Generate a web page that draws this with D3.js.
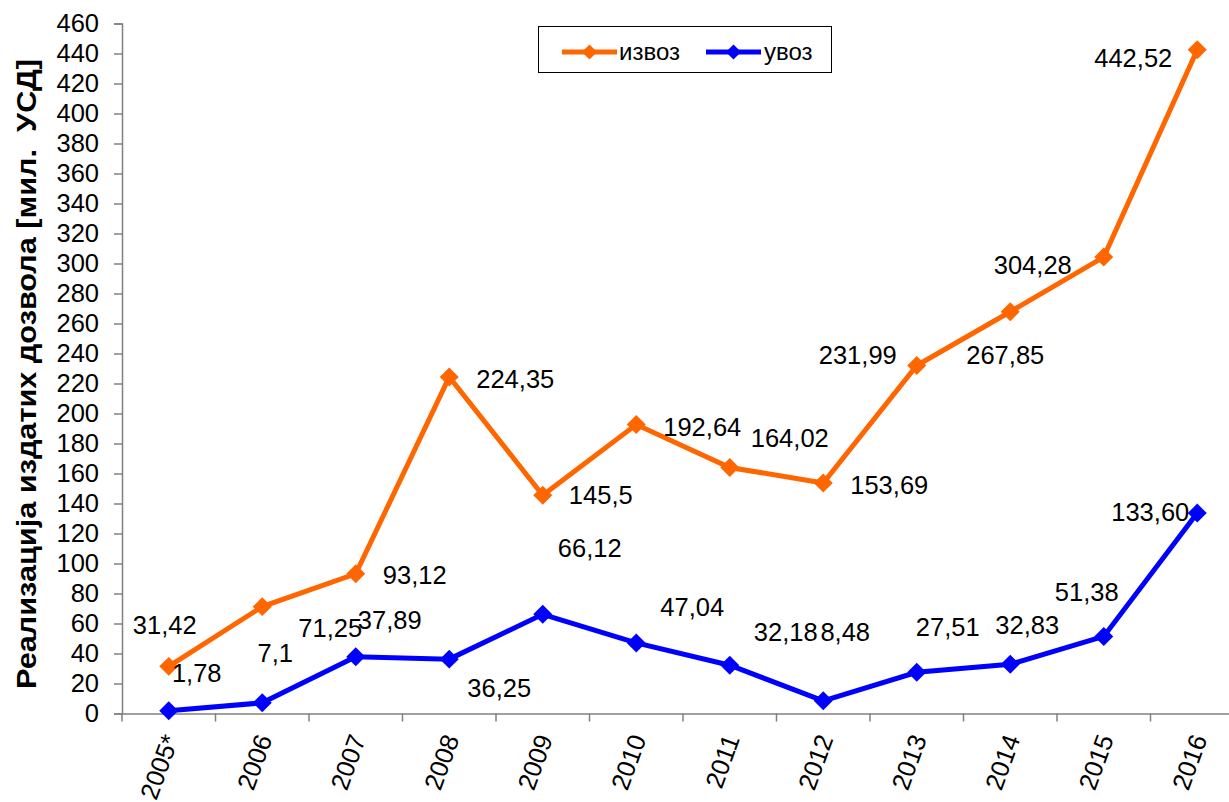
<!DOCTYPE html>
<html>
<head>
<meta charset="utf-8">
<script src="https://cdn.jsdelivr.net/npm/d3@7/dist/d3.min.js"></script>
<style>
  html, body { margin: 0; padding: 0; background: #fff; }
  svg { display: block; font-family: "Liberation Sans", Arial, sans-serif; }
</style>
</head>
<body>
<svg id="chart" width="1229" height="802"></svg>
<script>
// ---- data ----
const categories = ["2005*", "2006", "2007", "2008", "2009", "2010", "2011", "2012", "2013", "2014", "2015", "2016"];
const exportValues = [31.42, 71.25, 93.12, 224.35, 145.5, 192.64, 164.02, 153.69, 231.99, 267.85, 304.28, 442.52];
const importValues = [1.78, 7.1, 37.89, 36.25, 66.12, 47.04, 32.18, 8.48, 27.51, 32.83, 51.38, 133.60];
const exportLabels = ["31,42", "71,25", "93,12", "224,35", "145,5", "192,64", "164,02", "153,69", "231,99", "267,85", "304,28", "442,52"];
const importLabels = ["1,78", "7,1", "37,89", "36,25", "66,12", "47,04", "32,18", "8,48", "27,51", "32,83", "51,38", "133,60"];
const yTicks = d3.range(0, 461, 20);
const seriesNames = ["извоз", "увоз"];
const yTitle = "Реализација издатих дозвола [мил.  УСД]";

// label offsets (layout, relative to each point)
const exportOffsets = [[-4,-41],[68,21],[59,1],[66,2],[58,0],[66,2.5],[60,-29.5],[66,2],[-59,-10.5],[-5,43],[-71,8],[-64,8]];
const importOffsets = [[28,-38],[13,-50],[34,-37],[50,29],[47,-66],[56,-36],[56,-33],[22,-69],[31,-45],[17,-39],[-17,-44],[-47,-1]];

const colors = ["#FF6600", "#0000FF"];

// ---- layout ----
const plotLeft = 122, plotTop = 23.5, plotBottom = 713.5;
const step = 93.5;
const svg = d3.select("#chart");

const x = d3.scaleBand().domain(categories).range([plotLeft, plotLeft + step * categories.length]).padding(0);
const cx = c => x(c) + x.bandwidth() / 2;
const y = d3.scaleLinear().domain([0, 460]).range([plotBottom, plotTop]);

const axisColor = "#808080";
const numFont = 25.5;

// y axis
const yAxis = svg.append("g").attr("transform", `translate(${plotLeft},0)`)
  .call(d3.axisLeft(y).tickValues(yTicks).tickSize(8).tickPadding(15).tickFormat(d3.format("d")));
yAxis.select(".domain").attr("stroke", axisColor).attr("stroke-width", 1.5);
yAxis.selectAll(".tick line").attr("stroke", axisColor).attr("stroke-width", 1.5);
yAxis.selectAll(".tick text").attr("font-size", numFont).attr("fill", "#000")
  .attr("font-family", "Liberation Sans, Arial, sans-serif");

// x axis
const xAxis = svg.append("g").attr("transform", `translate(0,${plotBottom})`)
  .call(d3.axisBottom(x).tickSize(0).tickFormat(d => d));
xAxis.select(".domain").attr("stroke", axisColor).attr("stroke-width", 1.5);
xAxis.selectAll(".tick text")
  .attr("font-size", numFont).attr("fill", "#000")
  .attr("font-family", "Liberation Sans, Arial, sans-serif")
  .attr("text-anchor", "end")
  .attr("dy", "0.35em")
  .attr("transform", "translate(2,22) rotate(-70)")
  .attr("x", 0).attr("y", 0);
// x tick marks at band boundaries
const edges = categories.map(c => x(c)).concat([x(categories[categories.length - 1]) + x.bandwidth()]);
xAxis.selectAll(".edge").data(edges).enter().append("line")
  .attr("x1", d => d).attr("x2", d => d).attr("y1", 0).attr("y2", 8)
  .attr("stroke", axisColor).attr("stroke-width", 1.5);

// y title
svg.append("text")
  .attr("transform", `translate(36,374) rotate(-90)`)
  .attr("text-anchor", "middle")
  .attr("font-size", 27).attr("font-weight", "bold")
  .attr("textLength", 630).attr("lengthAdjust", "spacingAndGlyphs")
  .style("white-space", "pre")
  .text(yTitle);

// series
const series = [
  { name: seriesNames[0], values: exportValues, labels: exportLabels, offsets: exportOffsets, color: colors[0] },
  { name: seriesNames[1], values: importValues, labels: importLabels, offsets: importOffsets, color: colors[1] }
];
const line = d3.line().x((d, i) => cx(categories[i])).y(d => y(d));
const diamond = d3.symbol().type(d3.symbolSquare).size(180);

series.forEach(s => {
  svg.append("path").datum(s.values)
    .attr("d", line).attr("fill", "none").attr("stroke", s.color).attr("stroke-width", 5)
    .attr("stroke-linejoin", "miter");
  svg.selectAll(null).data(s.values).enter().append("path")
    .attr("d", diamond)
    .attr("transform", (d, i) => `translate(${cx(categories[i])},${y(d)}) rotate(45)`)
    .attr("fill", s.color);
  svg.selectAll(null).data(s.values).enter().append("text")
    .attr("x", (d, i) => cx(categories[i]) + s.offsets[i][0])
    .attr("y", (d, i) => y(d) + s.offsets[i][1])
    .attr("dy", "0.35em")
    .attr("text-anchor", "middle")
    .attr("font-size", numFont).attr("fill", "#000")
    .text((d, i) => s.labels[i]);
});

// legend
const lg = svg.append("g");
lg.append("rect").attr("x", 538.5).attr("y", 26.5).attr("width", 293).attr("height", 46)
  .attr("fill", "#fff").attr("stroke", "#000").attr("stroke-width", 1);
const legendItems = [
  { x1: 562, x2: 617, tx: 619 },
  { x1: 706, x2: 761, tx: 764 }
];
series.forEach((s, i) => {
  const it = legendItems[i];
  lg.append("line").attr("x1", it.x1).attr("x2", it.x2).attr("y1", 52).attr("y2", 52)
    .attr("stroke", s.color).attr("stroke-width", 5);
  lg.append("path").attr("d", diamond)
    .attr("transform", `translate(${(it.x1 + it.x2) / 2},52) rotate(45) scale(0.8)`)
    .attr("fill", s.color);
  lg.append("text").attr("x", it.tx).attr("y", 52).attr("dy", "0.35em")
    .attr("font-size", 24).attr("fill", "#000").text(s.name);
});
</script>
</body>
</html>
